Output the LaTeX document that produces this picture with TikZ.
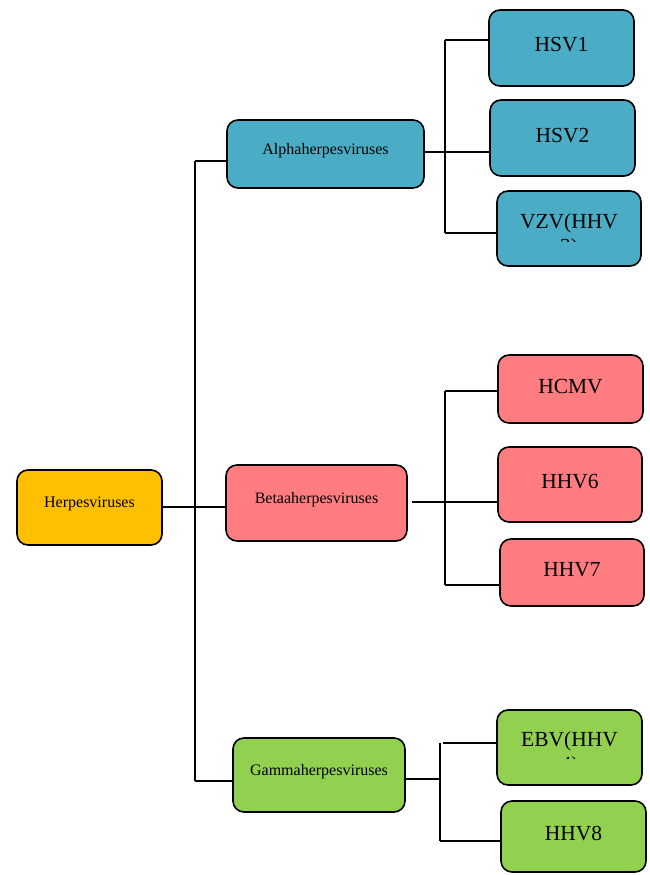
\documentclass[tikz,border=0pt]{standalone}
\usepackage{fontspec}
\setmainfont{Liberation Serif}
\definecolor{cteal}{HTML}{4BACC6}
\definecolor{cpink}{HTML}{FF7C80}
\definecolor{cgreen}{HTML}{92D050}
\definecolor{cyellow}{HTML}{FFC000}
\begin{document}
\begin{tikzpicture}[x=1pt,y=-1pt,
  box/.style={draw=black, line width=1.6pt, rounded corners=11pt, inner sep=0pt},
  lab/.style={box, font=\fontsize{16}{19}\selectfont, text height=11pt, text depth=11pt},
  leaf/.style={box, font=\fontsize{21.5}{24.5}\selectfont, text height=14pt, text depth=6pt},
  cliptext/.style={anchor=north, inner sep=0pt, align=center, font=\fontsize{21.5}{24.5}\selectfont},
  conn/.style={line width=1.4pt}]
\useasboundingbox (0,0) rectangle (650,875);

% level 0
\node[lab, fill=cyellow, minimum width=145pt, minimum height=75pt] (root) at (89.5,507.5) {Herpesviruses};
% level 1
\node[lab, fill=cteal, minimum width=197pt, minimum height=68pt] (alpha) at (325.5,154) {Alphaherpesviruses};
\node[lab, fill=cpink, minimum width=181pt, minimum height=76pt] (beta) at (316.5,503) {Betaaherpesviruses};
\node[lab, fill=cgreen, minimum width=172pt, minimum height=74pt] (gamma) at (319,775) {Gammaherpesviruses};
% leaves
\node[leaf, fill=cteal, minimum width=145pt, minimum height=76pt] (hsv1) at (561.5,48) {HSV1};
\node[leaf, fill=cteal, minimum width=145pt, minimum height=76pt] (hsv2) at (562.5,138) {HSV2};
\node[box, fill=cteal, minimum width=144pt, minimum height=75pt] (vzv) at (569,228.5) {};
\begin{scope}
  \clip (497,191) rectangle (641,241.5);
  \node[cliptext] (vzvtext) at (569,213.5) {VZV(HHV\\3)};
\end{scope}
\node[leaf, fill=cpink, minimum width=145pt, minimum height=68pt] (hcmv) at (570.5,389) {HCMV};
\node[leaf, fill=cpink, minimum width=144pt, minimum height=75pt] (hhv6) at (570,484.5) {HHV6};
\node[leaf, fill=cpink, minimum width=144pt, minimum height=67pt] (hhv7) at (572,572.5) {HHV7};
\node[box, fill=cgreen, minimum width=145pt, minimum height=75pt] (ebv) at (569.5,747.5) {};
\begin{scope}
  \clip (497,710) rectangle (642,758);
  \node[cliptext] (ebvtext) at (569.5,731.5) {EBV(HHV\\4)};
\end{scope}
\node[leaf, fill=cgreen, minimum width=145pt, minimum height=71pt] (hhv8) at (573.5,836.5) {HHV8};

% root trunk
\coordinate (ta) at (195,161);
\coordinate (tb) at (195,507);
\coordinate (tg) at (195,781);
\draw[conn] (root.east |- tb) -- (tb);
\draw[conn] (ta) -- (tg);
\draw[conn] (ta) -- (ta -| alpha.west);
\draw[conn] (tb) -- (tb -| beta.west);
\draw[conn] (tg) -- (tg -| gamma.west);

% alpha fork
\coordinate (a0) at (445,40);
\coordinate (a1) at (445,152);
\coordinate (a2) at (445,233);
\draw[conn] (alpha.east |- a1) -- (a1 -| hsv2.west);
\draw[conn] (a0) -- (a2);
\draw[conn] (a0) -- (a0 -| hsv1.west);
\draw[conn] (a2) -- (a2 -| vzv.west);

% beta fork
\coordinate (b0) at (445,391);
\coordinate (b1) at (445,502);
\coordinate (b2) at (445,585);
\coordinate (bs) at (412,502);
\draw[conn] (bs) -- (b1 -| hhv6.west);
\draw[conn] (b0) -- (b2);
\draw[conn] (b0) -- (b0 -| hcmv.west);
\draw[conn] (b2) -- (b2 -| hhv7.west);

% gamma fork
\coordinate (g0) at (440,743);
\coordinate (g1) at (440,779);
\coordinate (g2) at (440,841);
\coordinate (gs) at (443,743);
\draw[conn] (gamma.east |- g1) -- (g1);
\draw[conn] (g0) -- (g2);
\draw[conn] (gs) -- (gs -| ebv.west);
\draw[conn] (g2) -- (g2 -| hhv8.west);
\end{tikzpicture}
\end{document}
